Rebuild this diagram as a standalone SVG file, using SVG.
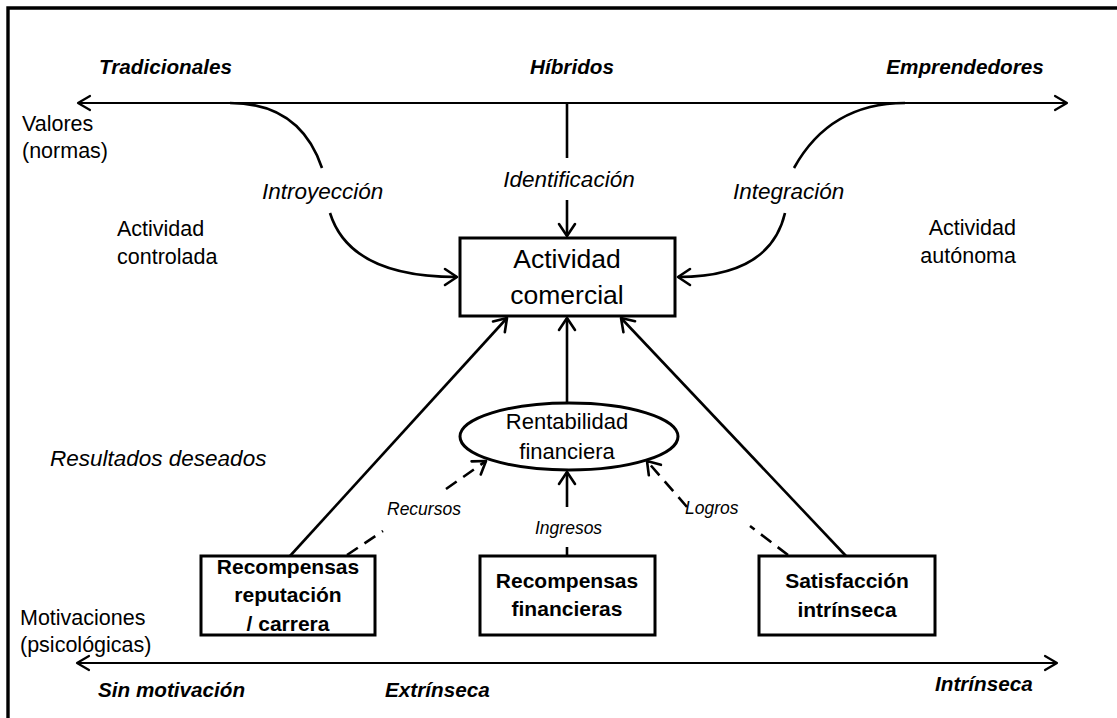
<svg xmlns="http://www.w3.org/2000/svg" width="1117" height="718" viewBox="0 0 1117 718">
<style>
  text { font-family: "Liberation Sans", Arial, sans-serif; fill: #000; }
  .ax { font-weight: bold; font-style: italic; font-size: 20.7px; }
  .side { font-size: 21.5px; }
  .lab { font-style: italic; font-size: 22.5px; }
  .small { font-style: italic; font-size: 17.5px; }
  .main { font-size: 26.5px; }
  .ell { font-size: 22px; }
  .box { font-weight: bold; font-size: 21px; }
  .shape { fill: #fff; stroke: #000; stroke-width: 3; }
  .line { fill: none; stroke: #000; stroke-width: 2.6; }
  .axis { fill: none; stroke: #000; stroke-width: 2; }
  .dash { fill: none; stroke: #000; stroke-width: 2.6; stroke-dasharray: 13 8; }
</style>
<defs>
  <marker id="arr" markerUnits="userSpaceOnUse" markerWidth="16" markerHeight="20" viewBox="0 0 16 20" refX="14" refY="10" orient="auto">
    <path d="M2,2 L14,10 L2,18" fill="none" stroke="#000" stroke-width="2.6" stroke-linecap="round" stroke-linejoin="round"/>
  </marker>
  <marker id="axarr" markerUnits="userSpaceOnUse" markerWidth="16" markerHeight="18" viewBox="0 0 16 18" refX="14" refY="9" orient="auto-start-reverse">
    <path d="M2,2 L14,9 L2,16" fill="none" stroke="#000" stroke-width="2.2" stroke-linecap="round" stroke-linejoin="round"/>
  </marker>
</defs>
<rect x="0" y="0" width="1117" height="718" fill="#fff"/>
<path d="M8,718 L8,8 L1117,8" fill="none" stroke="#000" stroke-width="3.4"/>

<g id="axis-values">
  <path class="axis" d="M78,103 L1067,103" marker-start="url(#axarr)" marker-end="url(#axarr)"/>
  <text class="ax" x="165.5" y="74" text-anchor="middle">Tradicionales</text>
  <text class="ax" x="572" y="74" text-anchor="middle">Híbridos</text>
  <text class="ax" x="965" y="74" text-anchor="middle">Emprendedores</text>
  <text class="side" x="22" y="131">Valores</text>
  <text class="side" x="22" y="158">(normas)</text>
</g>

<g id="axis-motivations">
  <path class="axis" d="M77,663 L1057,663" marker-start="url(#axarr)" marker-end="url(#axarr)"/>
  <text class="side" x="20" y="625">Motivaciones</text>
  <text class="side" x="20" y="652">(psicológicas)</text>
  <text class="ax" x="98" y="697">Sin motivación</text>
  <text class="ax" x="385" y="697">Extrínseca</text>
  <text class="ax" x="935" y="691">Intrínseca</text>
</g>

<g id="side-labels">
  <text class="side" x="117" y="236">Actividad</text>
  <text class="side" x="117" y="264">controlada</text>
  <text class="side" x="1016" y="235" text-anchor="end">Actividad</text>
  <text class="side" x="1016" y="263" text-anchor="end">autónoma</text>
  <text class="lab" x="50" y="466">Resultados deseados</text>
</g>

<g id="connectors">
  <path class="line" d="M230,103 Q300,103 322,168"/>
  <path class="line" d="M330,213 Q350,277 457,277" marker-end="url(#arr)"/>
  <path class="line" d="M905,103 Q830,103 794,168"/>
  <path class="line" d="M785,213 Q770,277 678,277" marker-end="url(#arr)"/>
  <path class="line" d="M567,103 L567,158"/>
  <path class="line" d="M567,200 L567,236" marker-end="url(#arr)"/>
  <path class="line" d="M290,556 L507,318" marker-end="url(#arr)"/>
  <path class="line" d="M846,556 L621,318" marker-end="url(#arr)"/>
  <path class="line" d="M567,403 L567,318" marker-end="url(#arr)"/>
  <path class="line" d="M567,556 L567,547"/>
  <path class="line" d="M567,507 L567,472" marker-end="url(#arr)"/>
  <path class="dash" d="M347,555 L383,531"/>
  <path class="dash" d="M446,489 L486,461" marker-end="url(#arr)"/>
  <path class="dash" d="M788,555 L750,526"/>
  <path class="dash" d="M687,507 L647,461" marker-end="url(#arr)"/>
  <text class="lab" x="262" y="199">Introyección</text>
  <text class="lab" x="569" y="187" text-anchor="middle">Identificación</text>
  <text class="lab" x="733" y="199">Integración</text>
  <text class="small" x="387" y="515">Recursos</text>
  <text class="small" x="535" y="534">Ingresos</text>
  <text class="small" x="685" y="514">Logros</text>
</g>

<g id="actividad-comercial">
  <rect class="shape" x="460" y="238" width="215" height="78"/>
  <text class="main" x="567" y="268" text-anchor="middle">Actividad</text>
  <text class="main" x="567" y="304" text-anchor="middle">comercial</text>
</g>

<g id="rentabilidad-financiera">
  <ellipse class="shape" cx="569" cy="436.5" rx="109" ry="33.5" stroke-width="2.8"/>
  <text class="ell" x="567" y="429" text-anchor="middle">Rentabilidad</text>
  <text class="ell" x="567" y="459" text-anchor="middle">financiera</text>
</g>

<g id="recompensas-reputacion">
  <rect class="shape" x="201" y="556" width="174" height="79"/>
  <text class="box" x="288" y="574" text-anchor="middle">Recompensas</text>
  <text class="box" x="288" y="602" text-anchor="middle">reputación</text>
  <text class="box" x="288" y="631" text-anchor="middle">/ carrera</text>
</g>

<g id="recompensas-financieras">
  <rect class="shape" x="480" y="556" width="175" height="79"/>
  <text class="box" x="567" y="588" text-anchor="middle">Recompensas</text>
  <text class="box" x="567" y="616" text-anchor="middle">financieras</text>
</g>

<g id="satisfaccion-intrinseca">
  <rect class="shape" x="759" y="556" width="176" height="79"/>
  <text class="box" x="847" y="588" text-anchor="middle">Satisfacción</text>
  <text class="box" x="847" y="617" text-anchor="middle">intrínseca</text>
</g>
</svg>
